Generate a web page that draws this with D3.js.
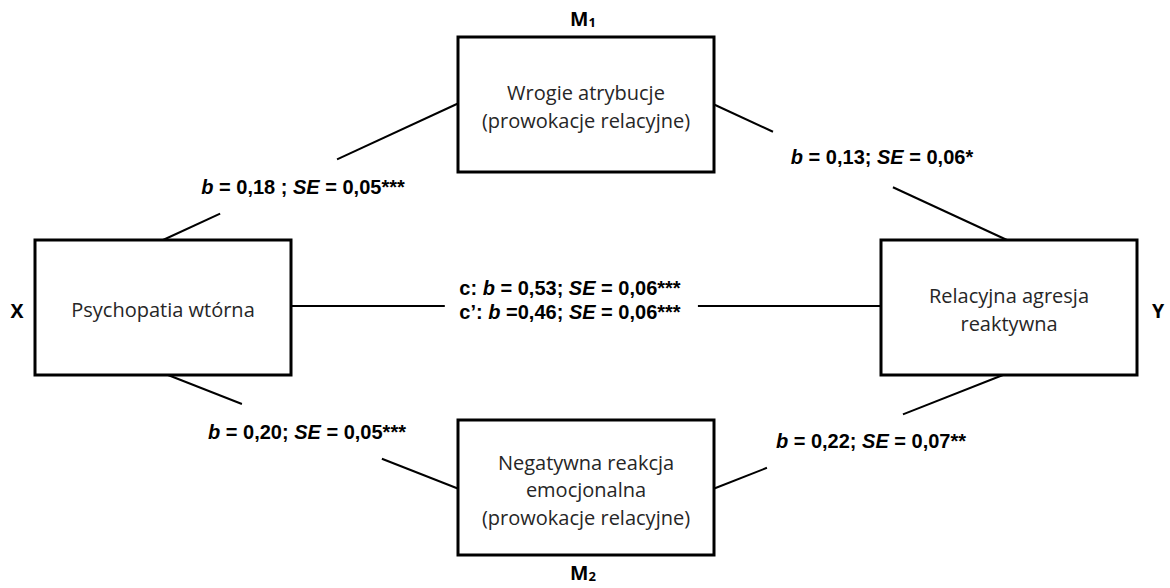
<!DOCTYPE html>
<html>
<head>
<meta charset="utf-8">
<script src="https://cdn.jsdelivr.net/npm/d3@7"></script>
<style>
  html, body { margin: 0; padding: 0; background: #fff; }
  svg { display: block; }
</style>
</head>
<body>
<script>
// ---------- data ----------
const nodeIds = ["X", "M1", "M2", "Y"];
const nodeRoles = ["X", "M", "M", "Y"];
const nodeSubs = ["", "1", "2", ""];
const nodeLines = [
  ["Psychopatia wtórna"],
  ["Wrogie atrybucje", "(prowokacje relacyjne)"],
  ["Negatywna reakcja", "emocjonalna", "(prowokacje relacyjne)"],
  ["Relacyjna agresja", "reaktywna"]
];

const pathFrom = ["X", "M1", "X", "M2", "X"];
const pathTo = ["M1", "Y", "M2", "Y", "Y"];

// coefficient labels: group index tells which label block a line belongs to
const coefGroup = [0, 1, 2, 3, 4, 4];
const coefPrefix = ["", "", "", "", "c: ", "c’: "];
const coefB = ["0,18", "0,13", "0,20", "0,22", "0,53", "0,46"];
const coefBEq = [" = ", " = ", " = ", " = ", " = ", " ="];
const coefSemi = [" ; ", "; ", "; ", "; ", "; ", "; "];
const coefSE = ["0,05", "0,06", "0,05", "0,07", "0,06", "0,06"];
const coefStars = ["***", "*", "***", "**", "***", "***"];

// ---------- layout ----------
const W = 1170, H = 588;
const boxW = 256, boxH = 135;
const nodeCx = { X: 163, M1: 586, M2: 586, Y: 1009 };
const nodeTop = { X: 240, M1: 37, M2: 420, Y: 240 };

// line anchor points and the part of the line hidden behind the labels
const anchors = [
  { p0: [163, 240], p1: [459, 103], gap: [0.193, 0.588] },
  { p0: [713, 104], p1: [1007, 240], gap: [0.204, 0.612] },
  { p0: [168, 375], p1: [459, 489], gap: [0.254, 0.735] },
  { p0: [1003, 375], p1: [713, 489], gap: [0.345, 0.814] },
  { p0: [292, 306], p1: [882, 306], gap: [0.259, 0.688] }
];
const groupPos = [[303, 194], [882, 164], [307, 439], [871, 448], [570, 295]];
const lineStep = 24;
const labelFont = "'Liberation Sans', Arial, sans-serif";

const svg = d3.select("body").append("svg")
  .attr("width", W).attr("height", H)
  .style("font-family", "'Open Sans', Lato, sans-serif");

// lines
const lerp = (a, b, t) => [a[0] + (b[0] - a[0]) * t, a[1] + (b[1] - a[1]) * t];
const line = d3.line();
pathFrom.forEach((f, i) => {
  const a = anchors[i];
  const g1 = lerp(a.p0, a.p1, a.gap[0]);
  const g2 = lerp(a.p0, a.p1, a.gap[1]);
  [[a.p0, g1], [g2, a.p1]].forEach(seg => {
    svg.append("path").attr("d", line(seg))
      .attr("stroke", "#000").attr("stroke-width", 2).attr("fill", "none");
  });
});

// boxes
nodeIds.forEach((id, i) => {
  const cx = nodeCx[id], top = nodeTop[id];
  svg.append("rect")
    .attr("x", cx - boxW / 2).attr("y", top)
    .attr("width", boxW).attr("height", boxH)
    .attr("fill", "#fff").attr("stroke", "#000").attr("stroke-width", 3);
  const lines = nodeLines[i];
  const lh = 27.5;
  const cy = top + boxH / 2 + 2;
  lines.forEach((t, j) => {
    svg.append("text")
      .attr("x", cx).attr("y", cy + (j - (lines.length - 1) / 2) * lh)
      .attr("text-anchor", "middle").attr("dominant-baseline", "central")
      .attr("fill", "#262626").style("font-size", "20px")
      .text(t);
  });
  // role label
  let lx, ly;
  if (id === "X") { lx = 17; ly = 310; }
  else if (id === "Y") { lx = 1158; ly = 310; }
  else if (id === "M1") { lx = 583; ly = 18; }
  else { lx = 583; ly = 572; }
  const t = svg.append("text")
    .attr("x", lx).attr("y", ly)
    .attr("text-anchor", "middle").attr("dominant-baseline", "central")
    .attr("fill", "#000").style("font-weight", "bold").style("font-size", "19.5px");
  t.append("tspan").text(nodeRoles[i]);
  if (nodeSubs[i]) {
    t.append("tspan").attr("dy", 4).style("font-size", "13px").text(nodeSubs[i]);
  }
});

// coefficient labels
const groupText = groupPos.map(p => svg.append("text")
  .attr("x", p[0]).attr("y", p[1])
  .attr("text-anchor", "middle")
  .style("font-family", labelFont)
  .attr("fill", "#000").style("font-weight", "bold").style("font-size", "20px"));
const groupCount = groupPos.map(() => 0);
coefB.forEach((b, i) => {
  const g = coefGroup[i];
  const t = groupText[g];
  const k = groupCount[g]++;
  const row = t.append("tspan")
    .attr("x", groupPos[g][0]).attr("y", groupPos[g][1] + k * lineStep);
  if (coefPrefix[i]) row.append("tspan").text(coefPrefix[i]);
  row.append("tspan").style("font-style", "italic").text("b");
  row.append("tspan").text(coefBEq[i] + b + coefSemi[i]);
  row.append("tspan").style("font-style", "italic").text("SE");
  row.append("tspan").text(" = " + coefSE[i] + coefStars[i]);
});
</script>
</body>
</html>
